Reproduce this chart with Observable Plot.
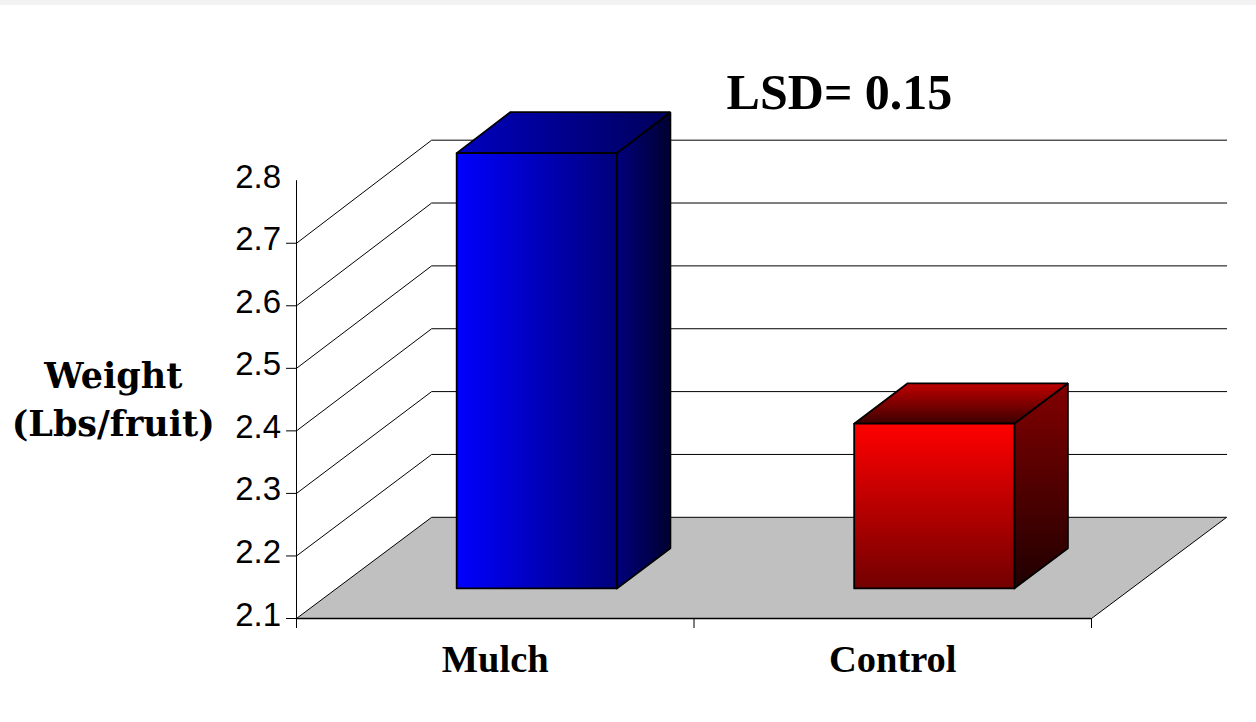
<!DOCTYPE html>
<html>
<head>
<meta charset="utf-8">
<script src="https://cdn.jsdelivr.net/npm/d3@7"></script>
<script src="https://cdn.jsdelivr.net/npm/@observablehq/plot@0.6"></script>
<style>
  html, body { margin: 0; padding: 0; background: #fff; overflow: hidden; }
  #strip { position: absolute; left: 0; top: 0; width: 1256px; height: 5px; background: #f2f2f2; }
  svg { display: block; }
</style>
</head>
<body>
<div id="chart"></div>
<div id="strip"></div>
<script>
// Data
const categories = ["Mulch", "Control"];
const values = [2.795, 2.363];
const tickValues = [2.1, 2.2, 2.3, 2.4, 2.5, 2.6, 2.7, 2.8];
const gridValues = [2.2, 2.3, 2.4, 2.5, 2.6, 2.7];
const base = 2.1;
const titleText = "LSD= 0.15";
const yTitleLines = ["Weight", "(Lbs/fruit)"];

// Oblique depth, in data units: a point at depth d (0..1) shifts right and up,
// with the slight stretch of the back wall seen in the source
const depthX = 0.34, depthY = 0.1618, backStretch = 0.005;
const project = (c, v, d) => ({x: c + d * depthX, y: base + (v - base) * (1 + d * backStretch) + d * depthY});
const quad = (pts) => [...pts, pts[0]].map(([c, v, d]) => project(c, v, d));

// Bar extents in category units and depth
const barLeft = [0.302, 1.302], barWidth = 0.403, depth0 = 0.297, depth1 = 0.693;

const floor = quad([[0, base, 0], [2, base, 0], [2, base, 1], [0, base, 1]]);
const grids = gridValues.map(v => [project(0, v, 0), project(0, v, 1), project(2, v, 1)]);

const faces = categories.map((_, i) => {
  const l = barLeft[i], r = l + barWidth, v = values[i];
  return {
    front: quad([[l, base, depth0], [r, base, depth0], [r, v, depth0], [l, v, depth0]]),
    top: quad([[l, v, depth0], [r, v, depth0], [r, v, depth1], [l, v, depth1]]),
    side: quad([[r, base, depth0], [r, base, depth1], [r, v, depth1], [r, v, depth0]])
  };
});

const gradient = (id, vertical, from, to) => {
  const g = d3.create("svg:linearGradient").attr("id", id)
    .attr("x1", 0).attr("y1", 0).attr("x2", vertical ? 0 : 1).attr("y2", vertical ? 1 : 0);
  g.append("stop").attr("offset", "0%").attr("stop-color", from);
  g.append("stop").attr("offset", "100%").attr("stop-color", to);
  return g.node();
};
const defs = () => {
  const d = d3.create("svg:defs");
  [
    gradient("b-front", false, "#0000ff", "#00007a"),
    gradient("b-top", false, "#0000c0", "#00005a"),
    gradient("b-side", false, "#00007c", "#000030"),
    gradient("r-front", true, "#ff0000", "#720000"),
    gradient("r-top", true, "#c00000", "#3c0000"),
    gradient("r-side", true, "#820000", "#200000")
  ].forEach(n => d.node().appendChild(n));
  return d.node();
};

const face = (pts, fill) => Plot.line(pts, {x: "x", y: "y", fill, stroke: "#000", strokeWidth: 1.8, strokeLinejoin: "miter"});
const prefixes = ["b", "r"];

const chart = Plot.plot({
  width: 1256, height: 722,
  marginLeft: 0, marginRight: 0, marginTop: 0, marginBottom: 0,
  x: {type: "linear", domain: [0, 2], range: [296, 1091], axis: null},
  y: {type: "linear", domain: [2.1, 2.8], range: [618, 180.2], axis: null},
  style: {background: "#fff"},
  marks: [
    defs,
    Plot.line(floor, {x: "x", y: "y", fill: "#c0c0c0", stroke: "#000", strokeWidth: 1}),
    ...grids.map(g => Plot.line(g, {x: "x", y: "y", stroke: "#000", strokeWidth: 1})),
    Plot.ruleX([0], {y1: 2.1, y2: 2.8, stroke: "#000", strokeWidth: 1}),
    Plot.ruleY(tickValues.slice(0, -1), {x1: -0.025, x2: 0, stroke: "#000", strokeWidth: 1}),
    Plot.ruleX([0, 1, 2], {y1: 2.084, y2: 2.1, stroke: "#000", strokeWidth: 1}),
    Plot.ruleY([2.1], {x1: 0, x2: 2, stroke: "#000", strokeWidth: 1.4}),
    ...faces.flatMap((f, i) => [
      face(f.side, `url(#${prefixes[i]}-side)`),
      face(f.top, `url(#${prefixes[i]}-top)`),
      face(f.front, `url(#${prefixes[i]}-front)`)
    ]),
    Plot.text(tickValues, {
      x: () => 0, y: d => d, text: d => d.toFixed(1), textAnchor: "end", dx: -15.5, dy: -3.5,
      fontFamily: "Liberation Sans", fontSize: 33, letterSpacing: 1.4, fill: "#000"
    }),
    Plot.text(categories, {
      x: (_, i) => i + 0.5, y: () => 2.1, text: d => d, dy: 41.5,
      fontFamily: "Liberation Serif", fontWeight: "bold", fontSize: 38.5, fill: "#000"
    }),
    Plot.text([titleText], {
      x: () => 1.366, y: () => 2.941, text: d => d,
      fontFamily: "Liberation Serif", fontWeight: "bold", fontSize: 50, fill: "#000"
    }),
    Plot.text(yTitleLines, {
      x: () => -0.461, y: (_, i) => 2.487 - i * 0.077, text: d => d,
      fontFamily: "DejaVu Serif", fontWeight: "bold", fontSize: 35, fill: "#000"
    })
  ]
});
document.getElementById("chart").appendChild(chart);
</script>
</body>
</html>
